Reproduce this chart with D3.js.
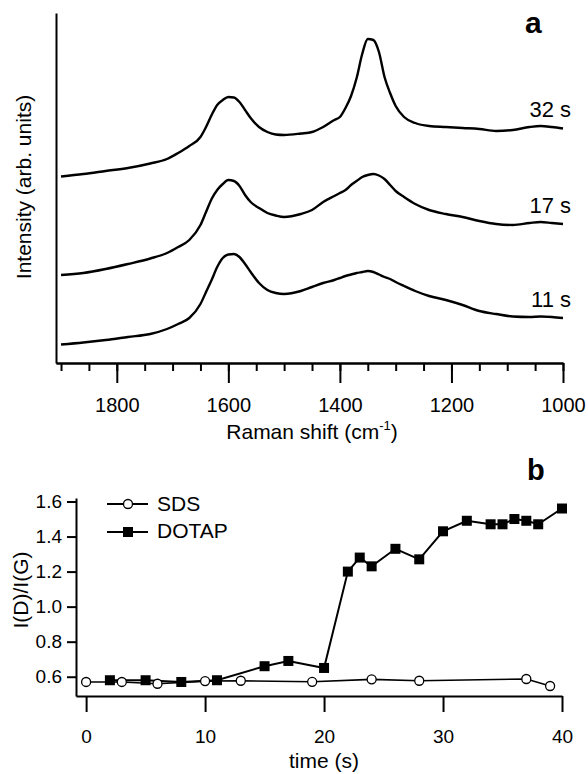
<!DOCTYPE html>
<html>
<head>
<meta charset="utf-8">
<script src="https://cdn.jsdelivr.net/npm/d3@7"></script>
<style>
  body { margin: 0; background: #fff; }
  svg { display: block; font-family: "Liberation Sans", Arial, sans-serif; }
</style>
</head>
<body>
<div id="chart"></div>
<script>
// panel a - Raman spectra (arb. units, offset as drawn)
var shift = [1900, 1860, 1820, 1780, 1740, 1710, 1690, 1670, 1650, 1640, 1630, 1620, 1610, 1600, 1590,
  1580, 1570, 1560, 1545, 1530, 1515, 1500, 1470, 1450, 1430, 1410, 1400, 1390, 1380, 1370, 1360,
  1350, 1340, 1330, 1320, 1310, 1300, 1285, 1265, 1240, 1210, 1180, 1150, 1120, 1090, 1060, 1040, 1020, 1000];
var spec11 = [18.5, 20.5, 23, 26, 29, 34, 39, 45, 59, 71, 83, 96, 105, 108.5, 109,
  106, 99, 91, 80, 73, 70, 69, 72, 76, 80, 83, 85, 87, 88.5, 90, 91,
  92, 91, 88.5, 86, 84, 81, 77, 72, 67, 63, 58, 52, 49, 46.5, 46, 46.5, 46, 45];
var spec17 = [88, 90, 94, 99, 104.5, 110, 116, 123, 138, 151, 164, 173, 179, 183, 182,
  177, 168, 161, 155, 150, 147.5, 146, 149, 153, 161, 167, 170, 173, 178, 182, 186,
  188, 189, 187.5, 184, 178, 172, 166, 159, 153, 149, 146, 142, 139, 138, 140, 141, 140, 139];
var spec32 = [186.5, 189, 192, 195, 199.5, 204, 210, 217, 226, 236, 248, 258, 263, 266, 265.5,
  261, 253, 245, 236, 231, 228.5, 228, 229.5, 231, 236, 243, 246, 255, 267, 285, 309,
  324, 323, 311, 286, 270, 257, 246, 240, 237, 236, 235, 234, 232, 233, 236, 237, 236, 234.5];
var spectra = [spec11, spec17, spec32];
var specLabels = ["11 s", "17 s", "32 s"];
var shiftTicks = [1800, 1600, 1400, 1200, 1000];

// panel b - I(D)/I(G) against time
var sdsTime = [0, 3, 6, 10, 13, 19, 24, 28, 37, 39];
var sdsRatio = [0.57, 0.57, 0.56, 0.575, 0.577, 0.571, 0.585, 0.577, 0.587, 0.547];
var dotapTime = [2, 5, 8, 11, 15, 17, 20, 22, 23, 24, 26, 28, 30, 32, 34, 35, 36, 37, 38, 40];
var dotapRatio = [0.58, 0.58, 0.57, 0.58, 0.66, 0.69, 0.65, 1.20, 1.28, 1.23, 1.33, 1.27, 1.43, 1.49,
  1.47, 1.47, 1.50, 1.49, 1.47, 1.56];
var timeTicks = [0, 10, 20, 30, 40];
var ratioTicks = [0.6, 0.8, 1.0, 1.2, 1.4, 1.6];
var seriesNames = ["SDS", "DOTAP"];

var svg = d3.select("#chart").append("svg")
  .attr("width", 588)
  .attr("height", 774);

function styleAxis(g) {
  g.select(".domain").attr("stroke", "#000").attr("stroke-width", 2);
  g.selectAll(".tick line").attr("stroke", "#000").attr("stroke-width", 2);
  g.selectAll(".tick text").attr("fill", "#000");
}

// ---------- panel a ----------
var xa = d3.scaleLinear().domain([1909, 1000]).range([56, 563]);
var ya = d3.scaleLinear().domain([0, 350]).range([363, 13]);

var gxa = svg.append("g")
  .attr("transform", "translate(0,363)")
  .call(d3.axisBottom(xa).tickValues(d3.range(1900, 999, -50)).tickSize(8).tickSizeOuter(0).tickFormat(""));
styleAxis(gxa);
var gxa2 = svg.append("g")
  .attr("transform", "translate(0,363)")
  .call(d3.axisBottom(xa).tickValues(shiftTicks).tickSize(20).tickSizeOuter(0).tickFormat(d3.format("d")));
styleAxis(gxa2);
gxa2.selectAll(".tick text").attr("y", 49).attr("dy", 0).attr("font-size", 20);

var gya = svg.append("g")
  .attr("transform", "translate(56,0)")
  .call(d3.axisLeft(ya).tickValues([]).tickSizeOuter(0));
styleAxis(gya);

var line = d3.line()
  .x(function(d, i) { return xa(shift[i]); })
  .y(function(d) { return ya(d); })
  .curve(d3.curveMonotoneX);

svg.selectAll(".spec")
  .data(spectra)
  .enter().append("path")
  .attr("class", "spec")
  .attr("d", line)
  .attr("fill", "none")
  .attr("stroke", "#000")
  .attr("stroke-width", 2.4)
  .attr("stroke-linejoin", "round");

svg.selectAll(".speclabel")
  .data(spectra)
  .enter().append("text")
  .attr("x", xa(1000) + 8)
  .attr("y", function(d) { return ya(d[d.length - 1]) - 11.5; })
  .attr("text-anchor", "end")
  .attr("font-size", 22)
  .text(function(d, i) { return specLabels[i]; });

svg.append("text")
  .attr("x", 312).attr("y", 439)
  .attr("text-anchor", "middle")
  .attr("font-size", 21)
  .html('Raman shift (cm<tspan dy="-9" font-size="13">-1</tspan><tspan dy="9">)</tspan>');

svg.append("text")
  .attr("transform", "translate(31,187) rotate(-90)")
  .attr("text-anchor", "middle")
  .attr("font-size", 21)
  .text("Intensity (arb. units)");

svg.append("text")
  .attr("x", 525).attr("y", 33)
  .attr("font-size", 30).attr("font-weight", "bold")
  .text("a");

// ---------- panel b ----------
var xb = d3.scaleLinear().domain([-0.85, 40]).range([76, 562]);
var yb = d3.scaleLinear().domain([0.49, 1.62]).range([696, 498]);

var gxb = svg.append("g")
  .attr("transform", "translate(0,696)")
  .call(d3.axisBottom(xb).tickValues(timeTicks).tickSize(16).tickSizeOuter(0));
styleAxis(gxb);
gxb.selectAll(".tick text").attr("y", 47).attr("dy", 0).attr("font-size", 19);

var gyb = svg.append("g")
  .attr("transform", "translate(76,0)")
  .call(d3.axisLeft(yb).tickValues(ratioTicks).tickSize(9).tickSizeOuter(0).tickFormat(d3.format(".1f")));
styleAxis(gyb);
gyb.selectAll(".tick text").attr("x", -14).attr("font-size", 19);

var sds = sdsTime.map(function(t, i) { return [t, sdsRatio[i]]; });
var dotap = dotapTime.map(function(t, i) { return [t, dotapRatio[i]]; });

var line2 = d3.line()
  .x(function(d) { return xb(d[0]); })
  .y(function(d) { return yb(d[1]); });

svg.append("path").attr("d", line2(sds))
  .attr("fill", "none").attr("stroke", "#000").attr("stroke-width", 1.6);
svg.append("path").attr("d", line2(dotap))
  .attr("fill", "none").attr("stroke", "#000").attr("stroke-width", 2);

svg.selectAll(".circ")
  .data(sds)
  .enter().append("circle")
  .attr("class", "circ")
  .attr("cx", function(d) { return xb(d[0]); })
  .attr("cy", function(d) { return yb(d[1]); })
  .attr("r", 4.5)
  .attr("fill", "#fff").attr("stroke", "#000").attr("stroke-width", 1.3);

svg.selectAll(".sq")
  .data(dotap)
  .enter().append("rect")
  .attr("class", "sq")
  .attr("x", function(d) { return xb(d[0]) - 5; })
  .attr("y", function(d) { return yb(d[1]) - 5; })
  .attr("width", 10).attr("height", 10)
  .attr("fill", "#000");

// legend
var leg = svg.append("g");
leg.append("line").attr("x1", 107).attr("x2", 148).attr("y1", 504).attr("y2", 504)
  .attr("stroke", "#000").attr("stroke-width", 2);
leg.append("circle").attr("cx", 128).attr("cy", 504).attr("r", 4.5)
  .attr("fill", "#fff").attr("stroke", "#000").attr("stroke-width", 1.3);
leg.append("line").attr("x1", 107).attr("x2", 148).attr("y1", 532).attr("y2", 532)
  .attr("stroke", "#000").attr("stroke-width", 2);
leg.append("rect").attr("x", 123).attr("y", 527).attr("width", 10).attr("height", 10).attr("fill", "#000");
leg.selectAll("text")
  .data(seriesNames)
  .enter().append("text")
  .attr("x", 157)
  .attr("y", function(d, i) { return 511 + i * 27; })
  .attr("font-size", 21)
  .text(function(d) { return d; });

svg.append("text")
  .attr("x", 324).attr("y", 768)
  .attr("text-anchor", "middle")
  .attr("font-size", 21)
  .text("time (s)");

svg.append("text")
  .attr("transform", "translate(28,590) rotate(-90)")
  .attr("text-anchor", "middle")
  .attr("font-size", 21)
  .text("I(D)/I(G)");

svg.append("text")
  .attr("x", 527).attr("y", 480)
  .attr("font-size", 29).attr("font-weight", "bold")
  .text("b");
</script>
</body>
</html>
